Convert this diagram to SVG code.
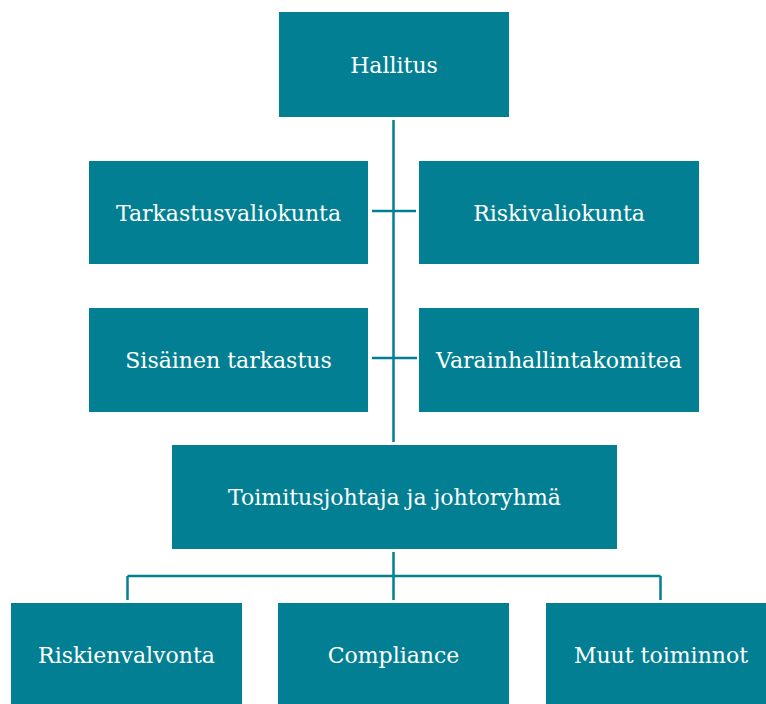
<svg xmlns="http://www.w3.org/2000/svg" width="766" height="704" viewBox="0 0 766 704">
<style>
.box{fill:#037F93}
.lbl{fill:#ffffff;font-family:"DejaVu Serif","Liberation Serif",serif;font-size:22px;text-anchor:middle}
.ln{stroke:#037F93;stroke-width:2.5;fill:none}
</style>
<rect width="766" height="704" fill="#ffffff"/>
<g id="connectors">
<path class="ln" d="M393.5 120V442M372 211H416M372 358H417M393.5 552V600M127.5 576H660.5M127.5 576V600M660.5 576V600"/>
</g>
<g id="hallitus"><rect class="box" x="279" y="12" width="230" height="105"/><text class="lbl" x="394" y="72.5">Hallitus</text></g>
<g id="tarkastusvaliokunta"><rect class="box" x="89" y="161" width="279" height="103"/><text class="lbl" x="228.5" y="220.5">Tarkastusvaliokunta</text></g>
<g id="riskivaliokunta"><rect class="box" x="419" y="161" width="280" height="103"/><text class="lbl" x="559" y="220.5">Riskivaliokunta</text></g>
<g id="sisainen"><rect class="box" x="89" y="308" width="279" height="104"/><text class="lbl" x="228.5" y="367.5">Sisäinen tarkastus</text></g>
<g id="varainhallintakomitea"><rect class="box" x="419" y="308" width="280" height="104"/><text class="lbl" x="559" y="367.5">Varainhallintakomitea</text></g>
<g id="toimitusjohtaja"><rect class="box" x="172" y="445" width="445" height="104"/><text class="lbl" x="394.5" y="504.5">Toimitusjohtaja ja johtoryhmä</text></g>
<g id="riskienvalvonta"><rect class="box" x="11" y="603" width="231" height="101"/><text class="lbl" x="126.5" y="663">Riskienvalvonta</text></g>
<g id="compliance"><rect class="box" x="278" y="603" width="231" height="101"/><text class="lbl" x="393.5" y="663">Compliance</text></g>
<g id="muut"><rect class="box" x="546" y="603" width="220" height="101"/><text class="lbl" x="661" y="663">Muut toiminnot</text></g>
</svg>
